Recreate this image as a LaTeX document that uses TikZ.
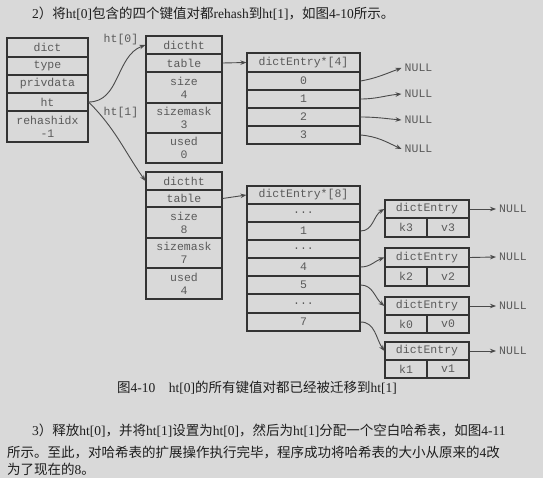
\documentclass[tikz,border=0pt]{standalone}
\usepackage{fontspec}
\setmainfont{Liberation Serif}
\newfontfamily\cjk{Noto Sans CJK SC}
\newfontfamily\monof{Liberation Mono}
\usetikzlibrary{arrows.meta}
\definecolor{bgc}{HTML}{D9D9D9}
\definecolor{linec}{HTML}{333333}
\definecolor{txtc}{HTML}{5A5A5A}
\definecolor{arrc}{HTML}{4A4A4A}
\definecolor{bodyc}{HTML}{1E1E1E}
\newcommand\C[1]{{\cjk #1}}
\newcommand\cellbox[6]{\node[cell, minimum width={#4pt-#2pt}, minimum height={#5pt-#3pt}] (#1) at ({(#2+#4)/2},{(#3+#5)/2}) {#6};}
\tikzset{
  cell/.style={draw=linec, line width=1.2pt, inner sep=0pt, align=center, text=txtc,
    font=\monof\fontsize{11.5}{13}\selectfont},
  lbl/.style={inner sep=0pt, text=txtc, font=\monof\fontsize{11.5}{13}\selectfont},
  nul/.style={inner sep=3pt, text=txtc, font=\monof\fontsize{11.5}{13}\selectfont},
  conn/.style={draw=arrc, line width=0.9pt, -{Stealth[length=6pt,width=4.5pt]}},
  body/.style={inner sep=0pt, text=bodyc, font=\fontsize{13.5}{15}\selectfont, anchor=west}
}
\begin{document}
\begin{tikzpicture}[x=1pt,y=-1pt]
\fill[bgc] (0,0) rectangle (543,478);
\useasboundingbox (0,0) rectangle (543,478);
% text
\node[body] (title) at (32,14) {2\C{）将}ht[0]\C{包含的四个键值对都}rehash\C{到}ht[1]\C{，如图}4-10\C{所示。}};
% dict
\cellbox{d0}{7}{38}{88}{57}{dict}
\cellbox{d1}{7}{57}{88}{75}{type}
\cellbox{d2}{7}{75}{88}{93}{privdata}
\cellbox{d3}{7}{93}{88}{111}{ht}
\cellbox{d4}{7}{111}{88}{142}{rehashidx\\-1}
% ht0
\cellbox{a0}{146}{36}{222}{54}{dictht}
\cellbox{a1}{146}{54}{222}{72}{table}
\cellbox{a2}{146}{72}{222}{103}{size\\4}
\cellbox{a3}{146}{103}{222}{133}{sizemask\\3}
\cellbox{a4}{146}{133}{222}{163}{used\\0}
% ht1
\cellbox{b0}{146}{172}{222}{190}{dictht}
\cellbox{b1}{146}{190}{222}{207}{table}
\cellbox{b2}{146}{207}{222}{238}{size\\8}
\cellbox{b3}{146}{238}{222}{268}{sizemask\\7}
\cellbox{b4}{146}{268}{222}{299}{used\\4}
% table 4
\cellbox{e0}{247}{53}{360}{72}{dictEntry*[4]}
\cellbox{e1}{247}{72}{360}{90}{0}
\cellbox{e2}{247}{90}{360}{108}{1}
\cellbox{e3}{247}{108}{360}{126}{2}
\cellbox{e4}{247}{126}{360}{144}{3}
% table 8
\cellbox{f0}{247}{186}{360}{204}{dictEntry*[8]}
\cellbox{f1}{247}{204}{360}{222}{...}
\cellbox{f2}{247}{222}{360}{240}{1}
\cellbox{f3}{247}{240}{360}{258}{...}
\cellbox{f4}{247}{258}{360}{276}{4}
\cellbox{f5}{247}{276}{360}{294}{5}
\cellbox{f6}{247}{294}{360}{313}{...}
\cellbox{f7}{247}{313}{360}{331}{7}
% entries
\cellbox{g1h}{385}{200}{469}{218}{dictEntry}
\cellbox{g1k}{385}{218}{427}{237}{k3}
\cellbox{g1v}{427}{218}{469}{237}{v3}
\cellbox{g2h}{385}{248}{469}{267}{dictEntry}
\cellbox{g2k}{385}{267}{427}{286}{k2}
\cellbox{g2v}{427}{267}{469}{286}{v2}
\cellbox{g3h}{385}{297}{469}{315}{dictEntry}
\cellbox{g3k}{385}{315}{427}{333}{k0}
\cellbox{g3v}{427}{315}{469}{333}{v0}
\cellbox{g4h}{385}{342}{469}{360}{dictEntry}
\cellbox{g4k}{385}{360}{427}{378}{k1}
\cellbox{g4v}{427}{360}{469}{378}{v1}
% labels
\node[lbl] (l0) at (121,40) {ht[0]};
\node[lbl] (l1) at (121,113) {ht[1]};
% NULLs
\node[nul] (n0) at (418.5,68) {NULL};
\node[nul] (n1) at (418.5,94) {NULL};
\node[nul] (n2) at (418.5,120) {NULL};
\node[nul] (n3) at (418.5,149) {NULL};
\node[nul] (m1) at (513,209) {NULL};
\node[nul] (m2) at (513,257) {NULL};
\node[nul] (m3) at (513,306) {NULL};
\node[nul] (m4) at (513,351) {NULL};
% connectors
\draw[conn] (d3.east) to[out=0,in=200] (a0.west);
\draw[conn] (d3.east) to[out=-45,in=125] (b0.west);
\draw[conn] (a1.east) -- (e0.west);
\draw[conn] (b1.east) -- (f0.west);
\draw[conn] (e1.east) to[out=10,in=200] (n0.west);
\draw[conn] (e2.east) to[out=0,in=185] (n1.west);
\draw[conn] (e3.east) to[out=0,in=175] (n2.west);
\draw[conn] (e4.east) to[out=-5,in=155] (n3.west);
\draw[conn] (f2.east) to[out=0,in=210] (g1h.west);
\draw[conn] (f4.east) to[out=0,in=200] (g2h.west);
\draw[conn] (f5.east) to[out=0,in=140] (g3h.west);
\draw[conn] (f7.east) to[out=0,in=125] (g4h.west);
\draw[conn] (g1h.east) -- (m1.west);
\draw[conn] (g2h.east) -- (m2.west);
\draw[conn] (g3h.east) -- (m3.west);
\draw[conn] (g4h.east) -- (m4.west);
% caption and paragraph
\node[body, anchor=center] (cap) at (257,388) {\C{图}4-10\hspace{1em}ht[0]\C{的所有键值对都已经被迁移到}ht[1]};
\node[body] (p1) at (32,431) {3\C{）释放}ht[0]\C{，并将}ht[1]\C{设置为}ht[0]\C{，然后为}ht[1]\C{分配一个空白哈希表，如图}4-11};
\node[body] (p2) at (7,452) {\C{所示。至此，对哈希表的扩展操作执行完毕，程序成功将哈希表的大小从原来的}4\C{改}};
\node[body] (p3) at (7,469) {\C{为了现在的}8\C{。}};
\end{tikzpicture}
\end{document}
